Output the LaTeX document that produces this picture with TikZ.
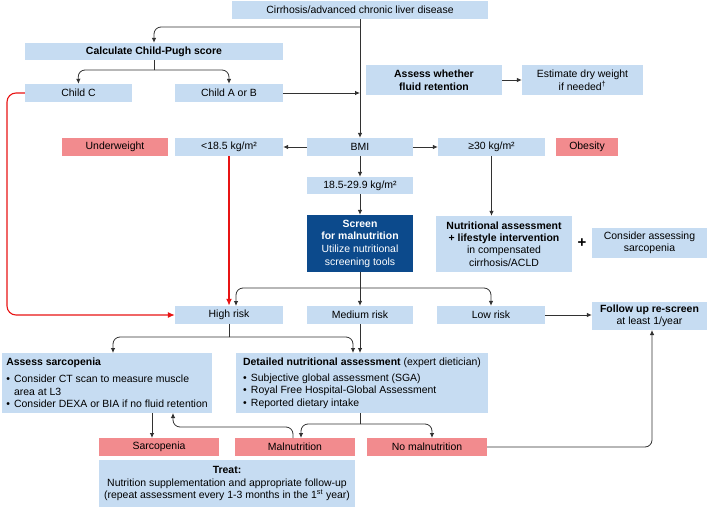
\documentclass[tikz,border=0pt]{standalone}
\usepackage{fontspec}
\setmainfont{Liberation Sans}
\usetikzlibrary{arrows.meta}
\definecolor{lb}{RGB}{198,220,242}
\definecolor{pk}{RGB}{242,139,142}
\definecolor{db}{RGB}{12,74,140}
\definecolor{ln}{RGB}{50,50,50}
\definecolor{rd}{RGB}{232,20,20}
\newcommand\bul{\makebox[0.75em][l]{\textbullet}}
\tikzset{
  box/.style={fill=lb, draw=none, inner sep=1bp, align=center, font=\fontsize{10.5}{12.6}\selectfont},
  pbox/.style={box, fill=pk},
  sz/.style 2 args={minimum width=#1bp, minimum height=#2bp},
  conn/.style={draw=ln, line width=0.8bp, rounded corners=7bp, -{Latex[length=5bp,width=4.5bp]}},
  plain/.style={draw=ln, line width=0.8bp},
  rconn/.style={draw=rd, line width=1.1bp, rounded corners=9bp, -{Latex[length=7bp,width=6bp]}},
}
\begin{document}
\begin{tikzpicture}[x=1bp,y=-1bp]
\useasboundingbox (0,0) rectangle (709,509);
% nodes
\node[box, sz={256}{18}] (top) at (360,10) {Cirrhosis/advanced chronic liver disease};
\node[box, sz={258}{17}] (cp) at (154,51.5) {\textbf{Calculate Child-Pugh score}};
\node[box, sz={107}{18}] (cc) at (78.5,93) {Child C};
\node[box, sz={108}{18}] (cab) at (229,93) {Child A or B};
\node[box, sz={136}{30}, font=\fontsize{10.5}{12.6}\selectfont\bfseries] (fluid) at (434,80) {Assess whether\\fluid retention};
\node[box, sz={121}{30}] (dry) at (582.5,80) {Estimate dry weight\\if needed\textsuperscript{\textdagger}};
\node[pbox, sz={106}{18}] (under) at (115,147) {Underweight};
\node[box, sz={108}{18}] (lt) at (229,147) {<18.5 kg/m²};
\node[box, sz={106}{18}] (bmi) at (360,147) {BMI};
\node[box, sz={107}{18}] (ge) at (491.5,147) {≥30 kg/m²};
\node[pbox, sz={62}{18}] (obes) at (587,147) {Obesity};
\node[box, sz={106}{17}] (mid) at (360,185.5) {18.5-29.9 kg/m²};
\node[box, sz={106}{57}, fill=db, text=white, font=\fontsize{10.5}{12.7}\selectfont] (scr) at (360,243.5) {\textbf{Screen}\\\textbf{for malnutrition}\\Utilize nutritional\\screening tools};
\node[box, sz={136}{56}, font=\fontsize{10.5}{12.5}\selectfont] (nutr) at (504,244) {\textbf{Nutritional assessment}\\\textbf{+ lifestyle intervention}\\in compensated\\cirrhosis/ACLD};
\node[inner sep=0, font=\fontsize{15}{15}\selectfont\bfseries] (plus) at (582,243.5) {+};
\node[box, sz={115}{30}] (cons) at (649.5,243) {Consider assessing\\sarcopenia};
\node[box, sz={108}{18}] (high) at (229,315) {High risk};
\node[box, sz={106}{18}] (med) at (360,315) {Medium risk};
\node[box, sz={108}{18}] (low) at (491,315) {Low risk};
\node[box, sz={115}{28}] (fol) at (649.5,316) {\textbf{Follow up re-screen}\\at least 1/year};
\node[box, sz={210}{60}, align=left, font=\fontsize{10.5}{12.7}\selectfont] (sarc) at (107,383)
  {\textbf{Assess sarcopenia}\\[4bp]\bul Consider CT scan to measure muscle\\\hspace*{0.75em}area at L3\\\bul Consider DEXA or BIA if no fluid retention};
\node[box, sz={252}{60}, align=left, font=\fontsize{10.5}{12.3}\selectfont] (det) at (362,383)
  {\textbf{Detailed nutritional assessment} (expert dietician)\\[4bp]\bul Subjective global assessment (SGA)\\\bul Royal Free Hospital-Global Assessment\\\bul Reported dietary intake};
\node[pbox, sz={120}{18}] (sarcp) at (159,447) {Sarcopenia};
\node[pbox, sz={120}{18}] (maln) at (295,447) {Malnutrition};
\node[pbox, sz={120}{18}] (nomal) at (427,447) {No malnutrition};
\node[box, sz={256}{47}, font=\fontsize{10.5}{12.5}\selectfont] (treat) at (227,483.5) {\textbf{Treat:}\\Nutrition supplementation and appropriate follow-up\\(repeat assessment every 1-3 months in the 1\textsuperscript{st} year)};
% coordinates
\coordinate (j1) at (360,27);
\coordinate (j2) at (360,93);
\coordinate (j3) at (360,288);
\coordinate (j4) at (229,337);
\coordinate (j5) at (360,424);
% connectors
\draw[conn] (top.south) -- (bmi.north);
\draw[conn] (j1) -- (154,27) -- (cp.north);
\draw[plain] (cp.south) -- (154,70);
\draw[conn] (154,70) -- (78,70) -- (cc.north);
\draw[conn] (154,70) -- (229,70) -- (cab.north);
\draw[conn] (cab.east) -- (j2);
\draw[conn] (fluid.east) -- (dry.west);
\draw[conn] (bmi.west) -- (lt.east);
\draw[conn] (bmi.east) -- (ge.west);
\draw[conn] (bmi.south) -- (mid.north);
\draw[conn] (mid.south) -- (scr.north);
\draw[conn] (ge.south) -- (nutr.north -| ge.south);
\draw[conn] (scr.south) -- (med.north);
\draw[conn] (j3) -- (236,288) -- (236,306);
\draw[conn] (j3) -- (491,288) -- (low.north);
\draw[conn] (low.east) -- (low.east -| fol.west);
\draw[rconn, line width=1.8bp] (lt.south) -- (high.north);
\draw[rconn] (cc.west) -- (7,93) -- (7,315) -- (high.west);
\draw[plain] (high.south) -- (j4);
\draw[conn] (j4) -- (113,337) -- (113,353);
\draw[conn] (j4) -- (353,337) -- (353,353);
\draw[conn] (med.south) -- (360,353);
\draw[conn] (152,413) -- (152,438);
\draw[plain] (det.south -| j5) -- (j5);
\draw[conn] (j5) -- (301,424) -- (301,438);
\draw[conn] (j5) -- (432,424) -- (432,438);
\draw[conn] (293,438) -- (293,427) -- (173,427) -- (173,413);
\draw[conn] (nomal.east) -- (652,447) -- (652,330);
\end{tikzpicture}
\end{document}
